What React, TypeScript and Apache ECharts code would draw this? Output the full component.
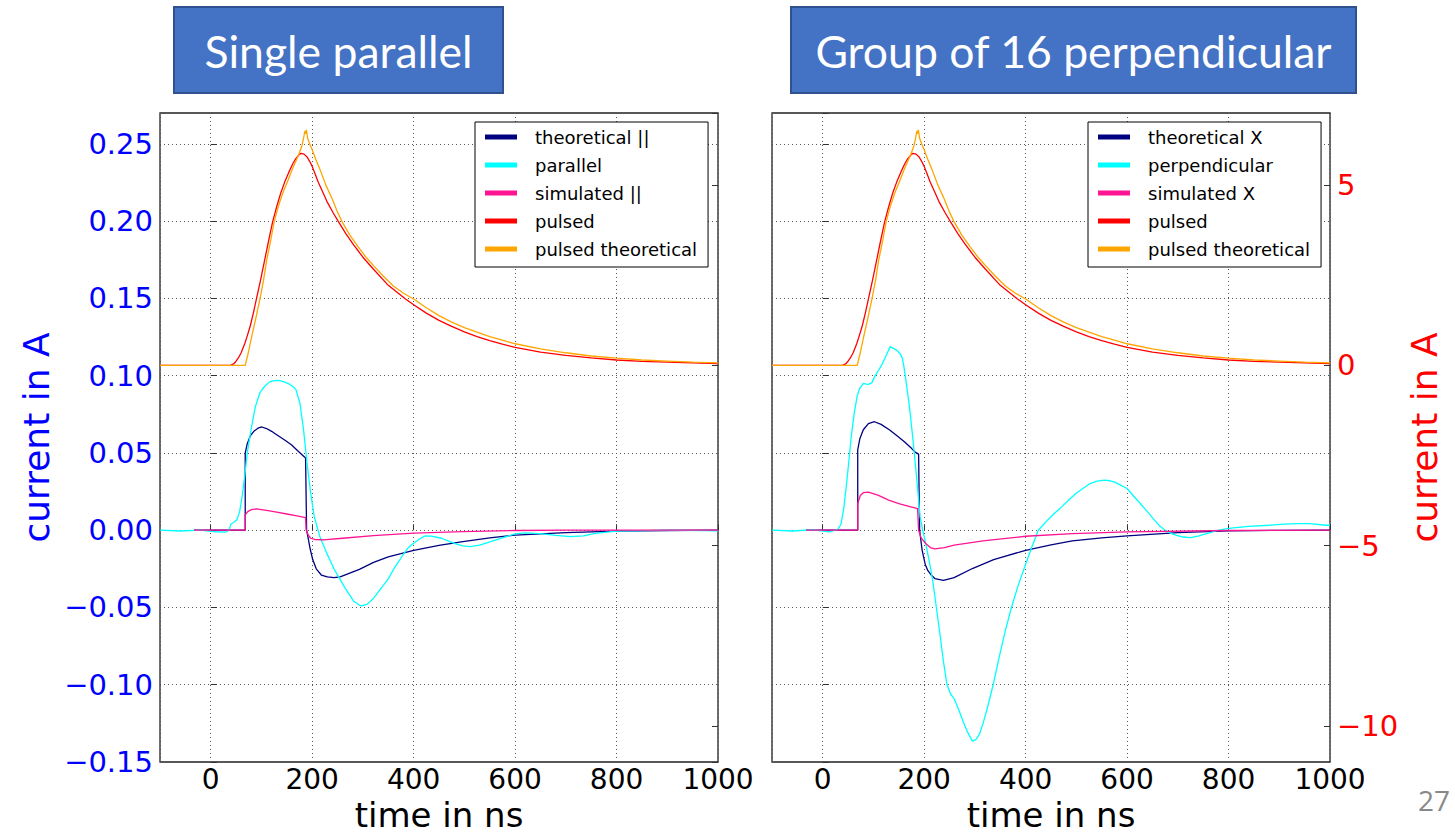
import React, { useEffect, useRef } from "react";
import * as echarts from "echarts";

// time (ns) / current pairs for each trace
const theoreticalPar: number[][] = [
  [-33, 0], [68, 0], [68, 0.0499], [72, 0.056], [78, 0.061], [85, 0.064], [93, 0.066], [101, 0.0668],
  [110, 0.0658], [120, 0.064], [130, 0.0618], [145, 0.0585], [159, 0.0553], [173, 0.051], [187, 0.0467],
  [188, 0.0467], [189, 0.0], [192, -0.005], [196, -0.012], [201, -0.019], [208, -0.025], [218, -0.029],
  [230, -0.0302], [243, -0.0307], [255, -0.0302], [264, -0.029], [293, -0.0253], [321, -0.0208],
  [350, -0.0172], [400, -0.013], [450, -0.0098], [497, -0.0074], [550, -0.005], [600, -0.0032],
  [700, -0.0015], [800, -0.0006], [900, -0.0002], [1000, 0],
];
const parallel: number[][] = [
  [-100, 0], [-60, -0.0005], [-20, 0], [10, -0.001], [30, -0.0012], [36, 0], [40, 0.004], [45, 0.005],
  [52, 0.007], [57, 0.012], [62, 0.022], [67, 0.035], [72, 0.05], [80, 0.066], [88, 0.08], [97, 0.089],
  [106, 0.093], [116, 0.096], [125, 0.0968], [134, 0.097], [145, 0.096], [155, 0.0945], [162, 0.093],
  [168, 0.091], [176, 0.082], [183, 0.065], [190, 0.043], [197, 0.024], [204, 0.0089], [215, -0.004],
  [229, -0.015], [243, -0.025], [264, -0.037], [282, -0.046], [296, -0.049], [308, -0.048], [321, -0.044],
  [335, -0.038], [349, -0.032], [363, -0.024], [377, -0.017], [390, -0.011], [400, -0.0084], [412, -0.0055],
  [423, -0.0037], [435, -0.0038], [455, -0.0052], [470, -0.0072], [483, -0.0089], [497, -0.0102],
  [511, -0.0106], [530, -0.0097], [546, -0.008], [570, -0.0055], [600, -0.0024], [620, -0.0017],
  [650, -0.0022], [680, -0.0033], [709, -0.0041], [735, -0.0037], [758, -0.002], [800, -0.0006],
  [850, -0.0003], [900, 0], [1000, -0.0004],
];
const simulatedPar: number[][] = [
  [-33, 0], [68, 0], [68, 0.0099], [73, 0.012], [80, 0.0133], [90, 0.0138], [110, 0.0128], [130, 0.0117],
  [150, 0.0105], [170, 0.0093], [187, 0.0082], [188, 0.0005], [192, -0.003], [197, -0.0052], [205, -0.006],
  [222, -0.0063], [260, -0.0052], [321, -0.0035], [400, -0.0019], [497, -0.0009], [600, -0.0002],
  [700, 0], [1000, 0],
];

const theoreticalPerp: number[][] = [
  [-33, 0], [69, 0], [69, 0.052], [73, 0.059], [80, 0.065], [90, 0.069], [102, 0.0702], [115, 0.0685],
  [132, 0.0648], [147, 0.061], [161, 0.0572], [175, 0.053], [182, 0.0505], [189, 0.0492], [190, 0.049],
  [191, 0.0], [196, -0.013], [202, -0.022], [207, -0.026], [214, -0.029], [221, -0.0313], [238, -0.0324],
  [259, -0.0307], [295, -0.0248], [337, -0.019], [400, -0.013], [450, -0.0095], [492, -0.0069],
  [550, -0.005], [600, -0.0037], [700, -0.0015], [800, -0.0004], [900, -0.0001], [1000, 0],
];
const perpendicular: number[][] = [
  [-100, 0], [-60, -0.0005], [-20, 0.0003], [13, -0.001], [30, 0.0005], [36, 0.004], [41, 0.013],
  [46, 0.027], [51, 0.043], [56, 0.06], [62, 0.0756], [68, 0.087], [73, 0.0918], [80, 0.095], [86, 0.0945],
  [90, 0.0944], [97, 0.0955], [104, 0.1004], [111, 0.104], [118, 0.108], [125, 0.113], [133, 0.1188],
  [140, 0.1175], [147, 0.1162], [153, 0.114], [157, 0.1112], [160, 0.106], [164, 0.097], [171, 0.08],
  [178, 0.0583], [185, 0.0346], [192, 0.0086], [197, 0], [203, -0.0086], [210, -0.02], [217, -0.033],
  [224, -0.05], [231, -0.067], [238, -0.085], [245, -0.1], [252, -0.106], [259, -0.109], [268, -0.116],
  [277, -0.124], [286, -0.131], [295, -0.1365], [302, -0.1355], [309, -0.132], [316, -0.125],
  [323, -0.117], [336, -0.1], [348, -0.082], [360, -0.065], [372, -0.05], [385, -0.036], [400, -0.022],
  [412, -0.011], [425, 0], [443, 0.0065], [457, 0.011], [471, 0.0151], [485, 0.0195], [499, 0.0238],
  [513, 0.027], [527, 0.0302], [541, 0.0318], [555, 0.0324], [566, 0.032], [576, 0.0311], [588, 0.029],
  [600, 0.027], [613, 0.022], [626, 0.0173], [640, 0.012], [654, 0.0065], [665, 0.0025], [675, 0],
  [686, -0.002], [696, -0.0032], [710, -0.0044], [725, -0.0048], [740, -0.0038], [753, -0.0026],
  [767, -0.0012], [781, 0], [795, 0.0008], [809, 0.0015], [840, 0.0025], [880, 0.0032], [910, 0.004],
  [936, 0.0043], [960, 0.0042], [992, 0.0032], [1000, 0.0032],
];
const simulatedPerp: number[][] = [
  [-33, 0], [69, 0], [69, 0.0173], [74, 0.0225], [80, 0.0243], [90, 0.0246], [110, 0.0225], [130, 0.0195],
  [150, 0.0172], [170, 0.0155], [187, 0.014], [189, 0.0], [194, -0.005], [203, -0.0086], [212, -0.0112],
  [221, -0.0121], [240, -0.0112], [259, -0.0097], [316, -0.0069], [400, -0.0039], [492, -0.0022],
  [600, -0.0011], [800, -0.0002], [1000, 0],
];

// pulsed traces on the secondary (red) axis, same in both panels
const pulsed: number[][] = [
  [-100, 0], [39, 0], [45, 0.04], [49, 0.1], [55, 0.22], [60, 0.35], [67, 0.6], [72, 0.82], [78, 1.1],
  [84, 1.45], [90, 1.84], [98, 2.35], [106, 2.9], [114, 3.45], [122, 3.98], [130, 4.4], [138, 4.78],
  [146, 5.09], [154, 5.36], [162, 5.6], [168, 5.74], [174, 5.84], [178, 5.88], [184, 5.86], [190, 5.78],
  [195, 5.66], [200, 5.52], [206, 5.3], [212, 5.08], [221, 4.8], [230, 4.52], [241, 4.24], [252, 3.98],
  [266, 3.66], [280, 3.38], [300, 3.0], [320, 2.68], [350, 2.22], [384, 1.84], [400, 1.68], [425, 1.45],
  [450, 1.25], [475, 1.08], [500, 0.93], [525, 0.8], [550, 0.69], [575, 0.59], [600, 0.5], [650, 0.37],
  [700, 0.28], [750, 0.21], [800, 0.15], [850, 0.11], [900, 0.09], [950, 0.07], [1000, 0.05],
];
const pulsedTheoretical: number[][] = [
  [-100, 0], [68, 0], [74, 0.35], [80, 0.75], [88, 1.25], [97, 1.84], [104, 2.35], [110, 2.9],
  [118, 3.45], [125, 3.98], [133, 4.4], [142, 4.78], [152, 5.12], [162, 5.48], [173, 5.83], [180, 6.1],
  [183, 6.3], [185.5, 6.5], [187, 6.42], [188.5, 6.53], [191, 6.3], [195, 6.15], [200, 5.98], [207, 5.72],
  [215, 5.45], [227, 5.0], [240, 4.6], [249, 4.28], [259, 3.98], [274, 3.62], [290, 3.3], [305, 3.02],
  [320, 2.78], [340, 2.48], [360, 2.2], [380, 2.0], [400, 1.84], [425, 1.6], [450, 1.38], [475, 1.2],
  [500, 1.05], [525, 0.92], [550, 0.8], [575, 0.7], [600, 0.6], [650, 0.46], [700, 0.35], [750, 0.26],
  [800, 0.2], [850, 0.15], [900, 0.12], [950, 0.09], [1000, 0.07],
];

const legendLeft = ["theoretical ||", "parallel", "simulated ||", "pulsed", "pulsed theoretical"];
const legendRight = ["theoretical X", "perpendicular", "simulated X", "pulsed", "pulsed theoretical"];
const panelTitles = ["Single parallel", "Group of 16 perpendicular"];

const NAVY = "#000080";
const CYAN = "#00FFFF";
const PINK = "#FF1493";
const RED = "#FF0000";
const ORANGE = "#FFA500";
const FONT = "DejaVu Sans";

const minus = (s: string) => s.replace("-", "\u2212");

export default function App() {
  const ref = useRef<HTMLDivElement>(null);

  useEffect(() => {
    if (!ref.current) return;
    const chart = echarts.init(ref.current, undefined, { renderer: "svg" });

    const grids = [
      { left: 160, top: 113, width: 558, height: 649 },
      { left: 772, top: 113, width: 558, height: 649 },
    ].map((g) => ({
      ...g,
      show: true,
      containLabel: false,
      outerBoundsMode: "none",
      borderColor: "#222",
      borderWidth: 1.3,
      backgroundColor: "#fff",
    }));

    const gridDots = { show: true, lineStyle: { color: "#555", width: 1, type: [1, 3] as any } };
    const innerTick = { show: true, inside: true, length: 6, lineStyle: { color: "#333", width: 1 } };

    const xAxis = [0, 1].map((i) => ({
      type: "value",
      gridIndex: i,
      min: -100,
      max: 1000,
      splitNumber: 5,
      axisLine: { show: false },
      axisTick: innerTick,
      splitLine: gridDots,
      axisLabel: {
        showMinLabel: false,
        color: "#000",
        fontSize: 28,
        fontFamily: FONT,
        margin: 3,
        formatter: (v: number) => String(Math.round(v)),
      },
      name: "time in ns",
      nameLocation: "middle",
      nameGap: 30,
      nameTextStyle: { color: "#000", fontSize: 34, fontFamily: FONT },
    }));

    const blueLabel = (v: number) => (v < -1e-9 ? "\u2212" : "") + Math.abs(v).toFixed(2);
    const redLabel = (v: number) => minus(String(Math.round(v)));

    const yAxis = [
      {
        type: "value", gridIndex: 0, position: "left", min: -0.15, max: 0.27, interval: 0.05,
        axisLine: { show: false }, axisTick: innerTick, splitLine: gridDots,
        axisLabel: { showMaxLabel: false, color: "#0000FF", fontSize: 29, fontFamily: FONT, margin: 7, formatter: blueLabel },
        name: "current in A", nameLocation: "middle", nameRotate: 90, nameGap: 106,
        nameTextStyle: { color: "#0000FF", fontSize: 36, fontFamily: FONT },
      },
      {
        type: "value", gridIndex: 0, position: "right", min: -11, max: 7, splitNumber: 4,
        axisLine: { show: false }, axisTick: innerTick, splitLine: { show: false },
        axisLabel: { show: false },
      },
      {
        type: "value", gridIndex: 1, position: "left", min: -0.15, max: 0.27, interval: 0.05,
        axisLine: { show: false }, axisTick: innerTick, splitLine: gridDots,
        axisLabel: { show: false },
      },
      {
        type: "value", gridIndex: 1, position: "right", min: -11, max: 7, splitNumber: 4,
        axisLine: { show: false }, axisTick: innerTick, splitLine: { show: false },
        axisLabel: { showMinLabel: false, showMaxLabel: false, color: "#FF0000", fontSize: 29, fontFamily: FONT, margin: 7, formatter: redLabel },
        name: "current in A", nameLocation: "middle", nameRotate: 90, nameGap: 76,
        nameTextStyle: { color: "#FF0000", fontSize: 36, fontFamily: FONT },
      },
    ];

    const line = (name: string, data: number[][], color: string, xi: number, yi: number) => ({
      type: "line",
      name,
      data,
      xAxisIndex: xi,
      yAxisIndex: yi,
      showSymbol: false,
      symbol: "none",
      clip: true,
      color,
      lineStyle: { color, width: 1.3 },
      emphasis: { disabled: true },
    });

    const series = [
      line(legendLeft[0], theoreticalPar, NAVY, 0, 0),
      line(legendLeft[1], parallel, CYAN, 0, 0),
      line(legendLeft[2], simulatedPar, PINK, 0, 0),
      line(legendLeft[3], pulsed, RED, 0, 1),
      line(legendLeft[4], pulsedTheoretical, ORANGE, 0, 1),
      line(legendRight[0], theoreticalPerp, NAVY, 1, 2),
      line(legendRight[1], perpendicular, CYAN, 1, 2),
      line(legendRight[2], simulatedPerp, PINK, 1, 2),
      line(legendRight[3], pulsed, RED, 1, 3),
      line(legendRight[4], pulsedTheoretical, ORANGE, 1, 3),
    ];

    const legendBase = {
      orient: "vertical",
      top: 122,
      icon: "rect",
      itemWidth: 32,
      itemHeight: 5,
      itemGap: 0,
      selectedMode: false,
      backgroundColor: "#fff",
      borderColor: "#000",
      borderWidth: 1,
      borderRadius: 0,
      padding: [1, 11, 4, 10],
      textStyle: { color: "#000", fontSize: 18, fontFamily: FONT, lineHeight: 28, padding: [0, 0, 0, 13] },
    };

    const titleBox = (x: number, w: number, text: string) => ({
      type: "group",
      children: [
        {
          type: "rect",
          shape: { x, y: 7, width: w, height: 86 },
          style: { fill: "#4472C4", stroke: "#2F528F", lineWidth: 2 },
        },
        {
          type: "text",
          x: x + w / 2,
          y: 50,
          style: {
            text,
            fill: "#fff",
            font: "44.5px Lato, 'Open Sans', sans-serif",
            textAlign: "center",
            textVerticalAlign: "middle",
          },
        },
      ],
    });

    chart.setOption({
      animation: false,
      backgroundColor: "#fff",
      grid: grids,
      xAxis,
      yAxis,
      series,
      legend: [
        { ...legendBase, left: 475, data: legendLeft },
        { ...legendBase, left: 1088, data: legendRight },
      ],
      graphic: [
        titleBox(174, 329, panelTitles[0]),
        titleBox(791, 565, panelTitles[1]),
        {
          type: "text",
          x: 1434,
          y: 800,
          style: {
            text: "27",
            fill: "#898989",
            font: "28px 'Open Sans', Lato, sans-serif",
            textAlign: "center",
            textVerticalAlign: "middle",
          },
        },
      ],
    });

    return () => chart.dispose();
  }, []);

  return (
    <div
      ref={ref}
      style={{ position: "fixed", left: 0, top: 0, width: 1455, height: 836, background: "#fff" }}
    />
  );
}
